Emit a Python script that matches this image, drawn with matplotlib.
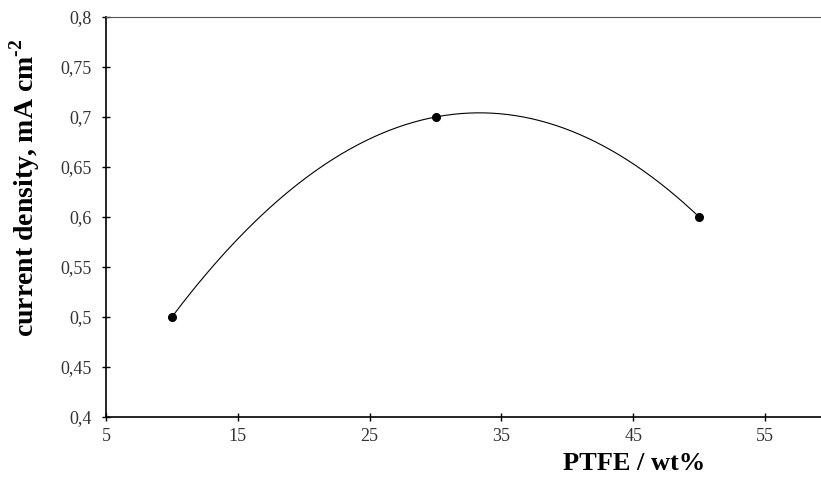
import numpy as np
import matplotlib
matplotlib.use("Agg")
import matplotlib.pyplot as plt
from matplotlib.ticker import FuncFormatter, MultipleLocator

# data
ptfe = [10, 30, 50]
current_density = [0.5, 0.7, 0.6]

plt.rcParams['font.family'] = ['Liberation Serif', 'DejaVu Serif']
plt.rcParams['mathtext.fontset'] = 'custom'
plt.rcParams['mathtext.rm'] = 'Liberation Serif:bold'
plt.rcParams['mathtext.bf'] = 'Liberation Serif:bold'

fig = plt.figure(figsize=(8.21, 4.79), dpi=100)
ax = fig.add_axes([106 / 821, 62 / 479, 725 / 821, 400 / 479])

# smooth curve through the points (like the excel smoothed line)
coef = np.polyfit(ptfe, current_density, 2)
xs = np.linspace(min(ptfe), max(ptfe), 200)
ax.plot(xs, np.polyval(coef, xs), color='black', lw=0.8)
ax.plot(ptfe, current_density, 'o', color='black', markersize=5.5)

ax.set_xlim(5, 60)
ax.set_ylim(0.4, 0.8)
ax.set_xticks([5, 15, 25, 35, 45, 55])
ax.yaxis.set_major_locator(MultipleLocator(0.05))

comma = FuncFormatter(lambda v, p: ('%g' % round(v, 3)).replace('.', ','))
ax.xaxis.set_major_formatter(comma)
ax.yaxis.set_major_formatter(comma)

ax.tick_params(direction='inout', length=6, width=1, labelsize=13, colors='black')
ax.tick_params(axis='y', pad=7)
ax.tick_params(axis='x', pad=5)
for lbl in ax.get_xticklabels() + ax.get_yticklabels():
    lbl.set_color('#333333')

ax.spines['right'].set_visible(False)
ax.spines['top'].set_color('#555555')
ax.spines['left'].set_linewidth(1.2)
ax.spines['bottom'].set_linewidth(1.2)

fig.text(634 / 821, 1 - 464 / 479, 'PTFE / wt%', fontsize=19, fontweight='bold',
         ha='center', va='center')
fig.text(25 / 821, 1 - 188 / 479, 'current density, mA cm$^{\\text{-2}}$', fontsize=20,
         fontweight='bold', rotation=90, ha='center', va='center')

fig.savefig('out.png', dpi=100)
